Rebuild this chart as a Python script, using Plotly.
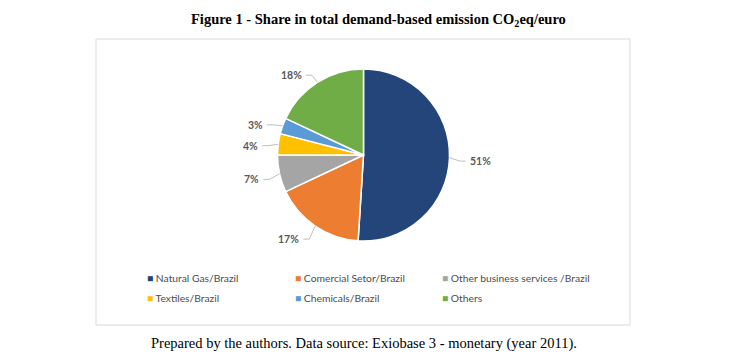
import math
import plotly.graph_objects as go

categories = ["Natural Gas/Brazil", "Comercial Setor/Brazil", "Other business services /Brazil",
              "Textiles/Brazil", "Chemicals/Brazil", "Others"]
shares = [51, 17, 7, 4, 3, 18]
colors = ["#244579", "#ED7D31", "#A5A5A5", "#FFC000", "#5B9BD5", "#70AD47"]

W, H = 750, 362
CX, CY, R = 363.5, 155.0, 86.0

fig = go.Figure(go.Pie(
    labels=categories, values=shares, sort=False, direction="clockwise", rotation=0,
    marker=dict(colors=colors, line=dict(color="white", width=1.5)),
    textinfo="none", hoverinfo="label+percent", showlegend=False,
    domain=dict(x=[(CX - R) / W, (CX + R) / W], y=[1 - (CY + R) / H, 1 - (CY - R) / H]),
))

def px(x):
    return x / W

def py(y):
    return 1 - y / H

shapes = [dict(type="rect", xref="paper", yref="paper", x0=px(96), x1=px(630), y0=py(325), y1=py(39),
               line=dict(color="#D9D9D9", width=1), layer="below")]
annotations = []

total = sum(shares)
cum = 0
for v in shares:
    mid = (cum + v / 2) / total * 2 * math.pi
    cum += v
    dx, dy = math.sin(mid), -math.cos(mid)
    x1, y1 = CX + R * dx, CY + R * dy
    x2, y2 = CX + 1.12 * R * dx, CY + 1.14 * R * dy + 3
    side = 1 if dx >= 0 else -1
    x3 = x2 + 6 * side
    shapes.append(dict(type="path", xref="paper", yref="paper",
                       path=f"M {px(x1)},{py(y1)} L {px(x2)},{py(y2)} L {px(x3)},{py(y2)}",
                       line=dict(color="#BFBFBF", width=1)))
    annotations.append(dict(x=px(x3 + 2 * side), y=py(y2), xref="paper", yref="paper",
                            text=f"<b>{round(v / total * 100)}%</b>", showarrow=False,
                            xanchor="left" if side > 0 else "right", yanchor="middle",
                            font=dict(family="Lato", size=10.5, color="#595959")))

# legend (3 columns, 2 rows)
col_x = [148, 296, 443]
row_y = [278, 298]
for i, (cat, col) in enumerate(zip(categories, colors)):
    annotations.append(dict(x=px(col_x[i % 3] - 3), y=py(row_y[i // 3]), xref="paper", yref="paper",
                            text=f"<span style='color:{col}'>■</span> {cat}", showarrow=False,
                            xanchor="left", yanchor="middle",
                            font=dict(family="Lato", size=10.3, color="#4D4D4D")))

annotations.append(dict(x=px(378), y=py(20), xref="paper", yref="paper",
                        text="<b>Figure 1 - Share in total demand-based emission CO<sub>2</sub>eq/euro</b>",
                        showarrow=False, xanchor="center", yanchor="middle",
                        font=dict(family="Liberation Serif", size=14.5, color="#000000")))
annotations.append(dict(x=px(364), y=py(343), xref="paper", yref="paper",
                        text="Prepared by the authors. Data source: Exiobase 3 - monetary (year 2011).",
                        showarrow=False, xanchor="center", yanchor="middle",
                        font=dict(family="Liberation Serif", size=14.5, color="#000000")))

fig.update_layout(width=W, height=H, margin=dict(l=0, r=0, t=0, b=0),
                  paper_bgcolor="white", plot_bgcolor="white",
                  shapes=shapes, annotations=annotations, showlegend=False)

fig.write_html("out.html", config={"displayModeBar": False},
               post_script="document.body.style.margin='0';")
